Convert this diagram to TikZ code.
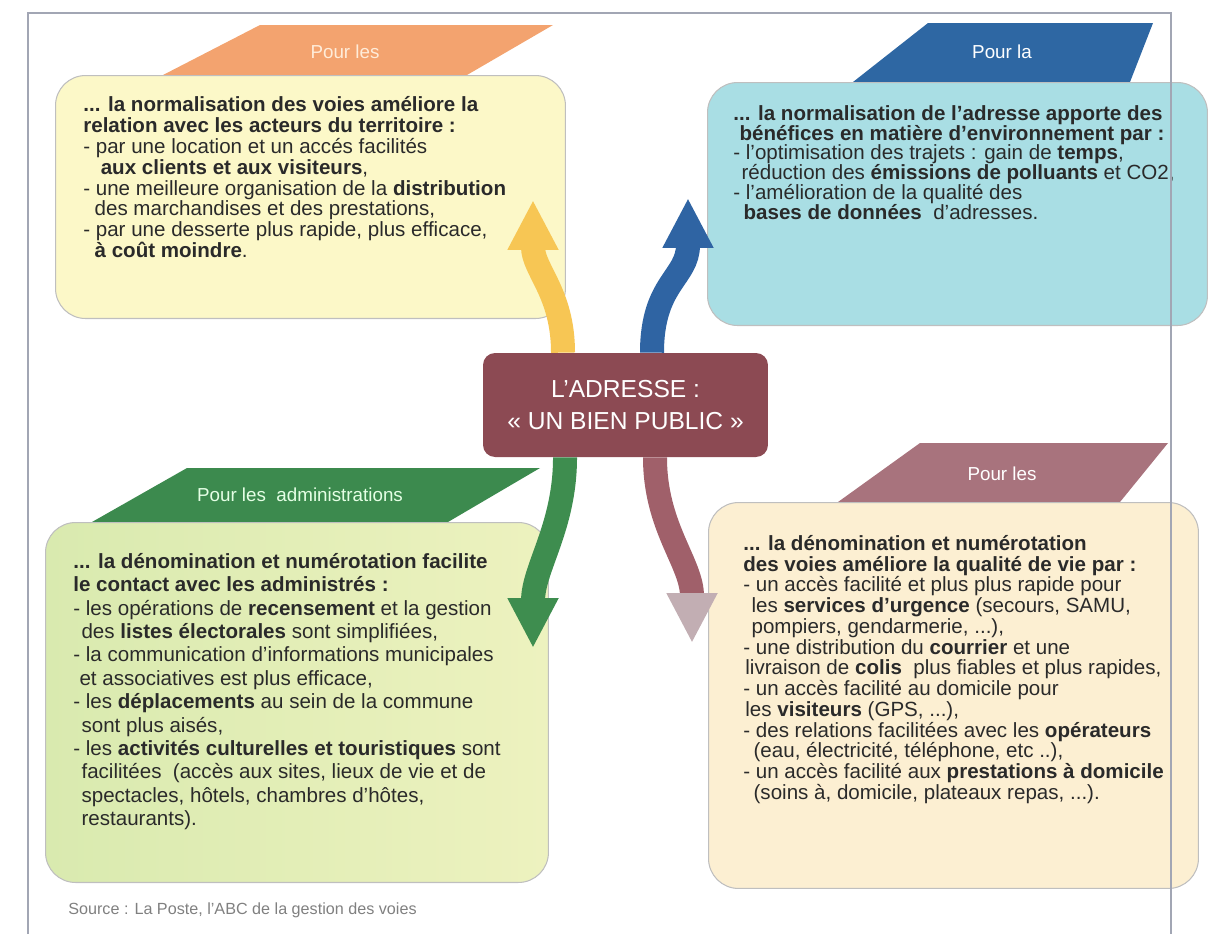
\documentclass[tikz,border=0pt]{standalone}
\usepackage{fontspec}
\setmainfont{Liberation Sans}
\usetikzlibrary{arrows.meta,positioning}

\definecolor{txt}{HTML}{2A2A2A}
\definecolor{framegray}{HTML}{A2A6B4}
\definecolor{orangeban}{HTML}{F3A36F}
\definecolor{yellowfill}{HTML}{FCF8C8}
\definecolor{yellowarrow}{HTML}{F7C654}
\definecolor{blueban}{HTML}{2E67A3}
\definecolor{cyanfill}{HTML}{A9DEE4}
\definecolor{bluearrow}{HTML}{2F64A3}
\definecolor{centrefill}{HTML}{8C4A53}
\definecolor{greenban}{HTML}{3C8A4E}
\definecolor{greenleft}{HTML}{D9EAAF}
\definecolor{greenright}{HTML}{EDF2BF}
\definecolor{greenarrow}{HTML}{3E8D4F}
\definecolor{mauveban}{HTML}{A8737D}
\definecolor{peachfill}{HTML}{FCEFD2}
\definecolor{mauvearrow}{HTML}{A0606A}
\definecolor{mauvehead}{HTML}{C2AEB3}

\tikzset{
  panel/.style={draw=gray!50, line width=0.6pt, rounded corners=0.6cm, anchor=north west, inner sep=0pt},
  bodytext/.style={align=left, inner sep=0pt, text=txt, font=\fontsize{11.7}{#1}\selectfont},
  bannertext/.style={text=white, font=\fontsize{10.7}{12}\selectfont},
  branch/.style={line width=0.48cm, -{Triangle[length=1cm,width=0.95cm]}},
}

\begin{document}
\begin{tikzpicture}[x=0.02cm, y=-0.02cm]
  \useasboundingbox (0,0) rectangle (1223,934);

  \fill[orangeban] (163,75) -- (260,25) -- (553,25) -- (467,75) -- cycle;
  \node[bannertext, text=orange!15] (actorshead) at (345,52) {Pour les};
  \node[panel, fill=yellowfill, minimum width=10.2cm, minimum height=4.86cm] (actorsbox) at (55,75) {};
  \node[bodytext=11.9pt, below right=0.42cm and 0.56cm of actorsbox.north west] (actorstext) {%
    \textbf{... la normalisation des voies améliore la}\\
    \textbf{relation avec les acteurs du territoire :}\\
    - par une location et un accés facilités\\
    \hspace*{0.85em}\textbf{aux clients et aux visiteurs},\\
    - une meilleure organisation de la \textbf{distribution}\\
    \hspace*{0.55em}des marchandises et des prestations,\\
    - par une desserte plus rapide, plus efficace,\\
    \hspace*{0.55em}\textbf{à coût moindre}.};

  \fill[blueban] (853,82) -- (928,23) -- (1153,23) -- (1130,82) -- cycle;
  \node[bannertext] (planethead) at (1002,52) {Pour la};
  \node[panel, fill=cyanfill, minimum width=10cm, minimum height=4.86cm] (planetbox) at (707,82) {};
  \node[bodytext=11.3pt, below right=0.46cm and 0.52cm of planetbox.north west] (planettext) {%
    \textbf{... la normalisation de l'adresse apporte des}\\
    \hspace*{0.3em}\textbf{bénéfices en matière d'environnement par :}\\
    - l'optimisation des trajets : gain de \textbf{temps},\\
    \hspace*{0.4em}réduction des \textbf{émissions de polluants} et CO2,\\
    - l'amélioration de la qualité des\\
    \hspace*{0.5em}\textbf{bases de données} \ d'adresses.};

  \fill[greenban] (92,522) -- (187,468) -- (540,468) -- (448,522) -- cycle;
  \node[bannertext, text=white!90!green] (adminhead) at (300,495) {Pour les \ administrations};
  \node[panel, left color=greenleft, right color=greenright, minimum width=10.06cm, minimum height=7.2cm] (adminbox) at (45,522) {};
  \node[bodytext=13.3pt, below right=0.62cm and 0.56cm of adminbox.north west] (admintext) {%
    \textbf{... la dénomination et numérotation facilite}\\
    \textbf{le contact avec les administrés :}\\
    - les opérations de \textbf{recensement} et la gestion\\
    \hspace*{0.4em}des \textbf{listes électorales} sont simplifiées,\\
    - la communication d'informations municipales\\
    \hspace*{0.3em}et associatives est plus efficace,\\
    - les \textbf{déplacements} au sein de la commune\\
    \hspace*{0.4em}sont plus aisés,\\
    - les \textbf{activités culturelles et touristiques} sont\\
    \hspace*{0.4em}facilitées \ (accès aux sites, lieux de vie et de\\
    \hspace*{0.4em}spectacles, hôtels, chambres d'hôtes,\\
    \hspace*{0.4em}restaurants).};

  \fill[mauveban] (838,502) -- (920,443) -- (1168,443) -- (1120,502) -- cycle;
  \node[bannertext] (lifehead) at (1002,474) {Pour les};
  \node[panel, fill=peachfill, minimum width=9.8cm, minimum height=7.72cm] (lifebox) at (708,502) {};
  \node[bodytext=11.8pt, below right=0.66cm and 0.7cm of lifebox.north west] (lifetext) {%
    \textbf{... la dénomination et numérotation}\\
    \textbf{des voies améliore la qualité de vie par :}\\
    - un accès facilité et plus plus rapide pour\\
    \hspace*{0.4em}les \textbf{services d'urgence} (secours, SAMU,\\
    \hspace*{0.4em}pompiers, gendarmerie, ...),\\
    - une distribution du \textbf{courrier} et une\\
    \hspace*{0.1em}livraison de \textbf{colis} \ plus fiables et plus rapides,\\
    - un accès facilité au domicile pour\\
    \hspace*{0.1em}les \textbf{visiteurs} (GPS, ...),\\
    - des relations facilitées avec les \textbf{opérateurs}\\
    \hspace*{0.5em}(eau, électricité, téléphone, etc ..),\\
    - un accès facilité aux \textbf{prestations à domicile}\\
    \hspace*{0.5em}(soins à, domicile, plateaux repas, ...).};

  \node[fill=centrefill, rounded corners=0.24cm, minimum width=5.7cm, minimum height=2.08cm,
        text=white, align=center, font=\fontsize{14}{18.7}\selectfont] (centre) at (625.5,405)
        {L'ADRESSE :\\« UN BIEN PUBLIC »};

  \coordinate (actorstip) at (533,200);
  \coordinate (planettip) at (688,198);
  \coordinate (admintip) at (533,648);
  \coordinate (lifetip) at (692,643);
  \draw[branch, yellowarrow] ([xshift=-1.25cm]centre.north) .. controls +(0,-60) and +(0,70) .. (actorstip);
  \draw[branch, bluearrow] ([xshift=0.53cm]centre.north) .. controls +(0,-70) and +(0,80) .. (planettip);
  \draw[branch, greenarrow] ([xshift=-1.21cm]centre.south) .. controls +(0,70) and +(0,-80) .. (admintip);
  \draw[mauvearrow, line width=0.48cm, -{Triangle[length=1cm,width=0.95cm,color=mauvehead]}]
    ([xshift=0.59cm]centre.south) .. controls +(0,70) and +(0,-80) .. (lifetip);

  \node[anchor=west, inner sep=0pt, text=gray, font=\fontsize{9.2}{11}\selectfont] (source) at (68,910)
    {Source : La Poste, l'ABC de la gestion des voies};

  \draw[framegray, line width=0.7pt] (28,934) -- (28,13) -- (1171,13) -- (1171,934);
\end{tikzpicture}
\end{document}
